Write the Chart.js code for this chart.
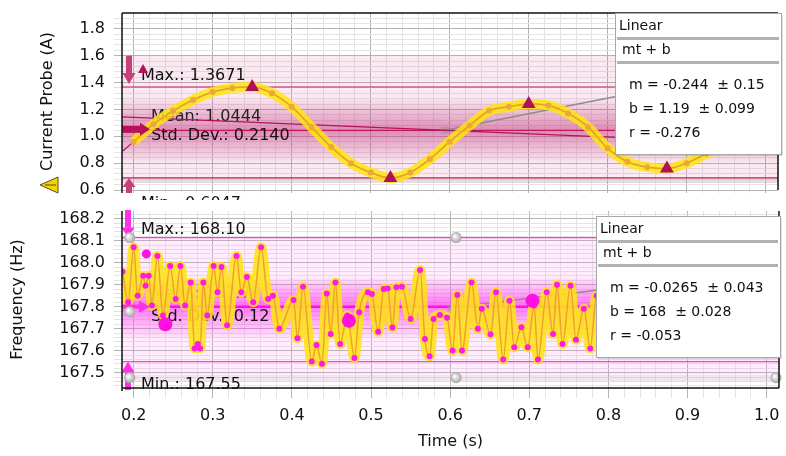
<!DOCTYPE html>
<html>
<head>
<meta charset="utf-8">
<script src="https://cdn.jsdelivr.net/npm/chart.js@4.4.1/dist/chart.umd.min.js"></script>
<style>
  body { margin: 0; background: #fff; }
  canvas { display: block; }
</style>
</head>
<body>
<canvas id="current" width="786" height="200"></canvas>
<canvas id="frequency" width="786" height="256"></canvas>
<script>
// shared time axis (s)
const timeMin = 0.1852;
const timeMax = 1.0156;

// Current Probe (A)
const currentTime = [0.186, 0.2, 0.225, 0.25, 0.275, 0.3, 0.325, 0.35, 0.375, 0.4, 0.425, 0.45, 0.475, 0.5,
  0.525, 0.55, 0.575, 0.6, 0.625, 0.65, 0.675, 0.7, 0.725, 0.75, 0.775, 0.8, 0.825, 0.85, 0.875, 0.9,
  0.925, 0.95, 0.975, 1.0, 1.0156];
const currentValue = [0.89, 0.96, 1.09, 1.19, 1.27, 1.33, 1.36, 1.367, 1.32, 1.22, 1.07, 0.92, 0.80, 0.73,
  0.69, 0.73, 0.83, 0.96, 1.08, 1.19, 1.22, 1.24, 1.23, 1.17, 1.07, 0.91, 0.81, 0.77, 0.76, 0.80,
  0.87, 0.93, 0.95, 0.95, 0.95];
const currentPeakTime = [0.35, 0.525, 0.70, 0.875];
const currentPeakValue = [1.367, 0.69, 1.24, 0.76];
const currentMaxLine = 1.367;
const currentMeanLine = 1.0444;
const currentMinLine = 0.69;
const currentFitM = -0.244;
const currentFitB = 1.19;
const currentTangentTime = [0.594, 1.0156];
const currentTangentValue = [1.045, 1.534];
const currentTicksMin = 0.6;
const currentTicksMax = 1.918;

// Frequency (Hz)
const freqTime = [0.186, 0.193, 0.2, 0.205, 0.212, 0.215, 0.219, 0.223, 0.230, 0.237, 0.246, 0.253, 0.259,
  0.265, 0.272, 0.277, 0.281, 0.284, 0.288, 0.293, 0.301, 0.306, 0.311, 0.318, 0.330, 0.336, 0.343,
  0.351, 0.361, 0.370, 0.376, 0.384, 0.402, 0.407, 0.414, 0.425, 0.431, 0.438, 0.444, 0.449, 0.455,
  0.461, 0.470, 0.479, 0.485, 0.496, 0.501, 0.509, 0.516, 0.521, 0.527, 0.532, 0.539, 0.550, 0.562,
  0.568, 0.574, 0.579, 0.587, 0.596, 0.603, 0.609, 0.615, 0.627, 0.635, 0.640, 0.651, 0.658, 0.667,
  0.675, 0.681, 0.690, 0.698, 0.706, 0.711, 0.722, 0.730, 0.735, 0.742, 0.752, 0.759, 0.769, 0.777,
  0.785, 0.792, 0.800, 0.808, 0.815, 0.823, 0.830, 0.838, 0.845, 0.853, 0.860, 0.868, 0.875, 0.883,
  0.890, 0.898, 0.905, 0.913, 0.920, 0.928, 0.935, 0.943, 0.950, 0.958, 0.965, 0.973, 0.980, 0.988,
  0.995, 1.003, 1.0156];
const freqValue = [167.96, 167.82, 168.07, 167.85, 167.94, 167.895, 167.94, 167.805, 168.03, 167.76, 167.985,
  167.835, 167.985, 167.805, 167.91, 167.61, 167.63, 167.61, 167.91, 167.76, 167.985, 167.865, 167.98,
  167.715, 168.03, 167.865, 167.935, 167.82, 168.07, 167.835, 167.85, 167.70, 167.83, 167.656, 167.89,
  167.55, 167.626, 167.54, 167.86, 167.676, 167.91, 167.63, 167.76, 167.567, 167.774, 167.865, 167.857,
  167.686, 167.88, 167.883, 167.705, 167.888, 167.89, 167.744, 167.967, 167.653, 167.574, 167.744,
  167.762, 167.75, 167.60, 167.853, 167.60, 167.91, 167.70, 167.79, 167.674, 167.865, 167.56, 167.827,
  167.615, 167.706, 167.615, 167.805, 167.56, 167.865, 167.676, 167.90, 167.63, 167.895, 167.65, 167.79,
  167.61, 167.85, 167.66, 167.93, 167.70, 167.98, 167.64, 167.88, 167.72, 167.95, 167.62, 167.90, 167.68,
  168.02, 167.70, 167.86, 167.63, 167.92, 167.72, 167.97, 167.66, 167.89, 167.74, 167.99, 167.65, 167.87,
  167.70, 167.94, 167.75, 167.98, 167.79, 167.99];
const freqDotTime = [0.216, 0.240, 0.472, 0.704];
const freqDotValue = [168.04, 167.72, 167.736, 167.827];
const freqDotSize = [4.5, 7, 7, 7];
const freqMaxLine = 168.114;
const freqMeanLine = 167.8;
const freqMinLine = 167.55;
const freqTangentTime = [0.6, 1.0156];
const freqTangentValue = [167.795, 167.974];
const freqTicksMin = 167.43;
const freqTicksMax = 168.235;

const pts = (xs, ys) => xs.map((x, i) => ({ x, y: ys[i] }));
const isMult = (v, m) => Math.abs(v / m - Math.round(v / m)) < 1e-6;
const FONT = 'DejaVu Sans';
const MAJOR = '#b4b4b4';
const MINOR = '#e4e4e4';

function vArrow(ctx, x, yTail, yTip, shaftW, headW, headL, color) {
  const dir = yTip > yTail ? 1 : -1;
  ctx.fillStyle = color;
  ctx.fillRect(x - shaftW / 2, Math.min(yTail, yTip - dir * headL), shaftW, Math.abs(yTip - dir * headL - yTail));
  ctx.beginPath();
  ctx.moveTo(x - headW / 2, yTip - dir * headL);
  ctx.lineTo(x + headW / 2, yTip - dir * headL);
  ctx.lineTo(x, yTip);
  ctx.closePath();
  ctx.fill();
}
function hArrow(ctx, x0, xTip, y, shaftH, headH, headL, color) {
  ctx.fillStyle = color;
  ctx.fillRect(x0, y - shaftH / 2, xTip - headL - x0, shaftH);
  ctx.beginPath();
  ctx.moveTo(xTip - headL, y - headH / 2);
  ctx.lineTo(xTip - headL, y + headH / 2);
  ctx.lineTo(xTip, y);
  ctx.closePath();
  ctx.fill();
}
function sphere(ctx, x, y, r) {
  const g = ctx.createRadialGradient(x - r * 0.3, y - r * 0.3, 0.5, x, y, r);
  g.addColorStop(0, '#ffffff');
  g.addColorStop(1, '#a4a4a4');
  ctx.fillStyle = g;
  ctx.beginPath();
  ctx.arc(x, y, r, 0, Math.PI * 2);
  ctx.fill();
}
function hLine(ctx, a, y, color, w) {
  ctx.strokeStyle = color;
  ctx.lineWidth = w;
  ctx.beginPath();
  ctx.moveTo(a.left, y);
  ctx.lineTo(a.right, y);
  ctx.stroke();
}
function text(ctx, s, x, y, color, size) {
  ctx.fillStyle = color;
  ctx.font = (size || 16) + 'px "' + FONT + '"';
  ctx.textBaseline = 'middle';
  ctx.textAlign = 'left';
  ctx.fillText(s, x, y);
}
function fitBox(ctx, x, y, w, h, lines) {
  ctx.fillStyle = 'rgba(0,0,0,0.12)';
  ctx.fillRect(x + 2, y + 2, w, h);
  ctx.fillStyle = '#fff';
  ctx.fillRect(x, y, w, h);
  ctx.strokeStyle = '#a8a8a8';
  ctx.lineWidth = 1;
  ctx.strokeRect(x + 0.5, y + 0.5, w, h);
  ctx.fillStyle = '#b2b2b2';
  ctx.fillRect(x + 2, y + 24, w - 4, 3);
  ctx.fillRect(x + 2, y + 48, w - 4, 3);
  text(ctx, 'Linear', x + 4, y + 13, '#111', 14);
  text(ctx, 'mt + b', x + 7, y + 37, '#111', 14);
  lines.forEach((s, i) => text(ctx, s, x + 14, y + 72 + i * 24, '#111', 14));
}
function frame(ctx, a, sides) {
  ctx.strokeStyle = '#111';
  ctx.lineWidth = 1.5;
  ctx.beginPath();
  if (sides.includes('t')) { ctx.moveTo(a.left, a.top); ctx.lineTo(a.right, a.top); }
  if (sides.includes('b')) { ctx.moveTo(a.left, a.bottom); ctx.lineTo(a.right, a.bottom); }
  if (sides.includes('l')) { ctx.moveTo(a.left, a.top); ctx.lineTo(a.left, a.bottom + 3); }
  if (sides.includes('r')) { ctx.moveTo(a.right, a.top); ctx.lineTo(a.right, a.bottom); }
  ctx.stroke();
}

function xAxis(showLabels, height) {
  return {
    type: 'linear', min: timeMin, max: timeMax,
    ticks: {
      display: showLabels, stepSize: 0.02, includeBounds: false, autoSkip: false, maxRotation: 0,
      padding: 8, color: '#111', font: { family: FONT, size: 16 },
      callback: v => isMult(v, 0.1) ? v.toFixed(1) : ''
    },
    grid: { color: c => c.tick && isMult(c.tick.value, 0.1) ? MAJOR : MINOR, tickLength: showLabels ? 10 : 3 },
    border: { display: false },
    title: { display: showLabels, text: 'Time (s)', color: '#111', font: { family: FONT, size: 16 }, padding: { top: 0, bottom: 5 } },
    afterFit: s => { s.height = height; s.paddingLeft = 0; s.paddingRight = 0; }
  };
}
function yAxis(min, max, step, major, title, titlePad) {
  return {
    min, max,
    ticks: {
      stepSize: step, includeBounds: false, autoSkip: false, padding: 9, color: '#111',
      font: { family: FONT, size: 16 },
      callback: v => isMult(v, major) ? v.toFixed(1) : ''
    },
    grid: { color: c => c.tick && isMult(c.tick.value, major) ? MAJOR : MINOR, tickLength: 8 },
    border: { display: false },
    title: { display: true, text: title, color: '#111', font: { family: FONT, size: 16 }, padding: { top: titlePad, bottom: 0 } },
    afterFit: s => { s.width = 122; s.paddingTop = 0; s.paddingBottom = 0; }
  };
}

const currentDecor = {
  id: 'currentDecor',
  beforeDatasetsDraw(chart) {
    const { ctx, chartArea: a, scales: { y } } = chart;
    const w = a.right - a.left;
    ctx.save();
    ctx.fillStyle = 'rgba(225,110,165,0.15)';
    ctx.fillRect(a.left, y.getPixelForValue(1.6), w, y.getPixelForValue(0.652) - y.getPixelForValue(1.6));
    ctx.fillStyle = 'rgba(190,190,190,0.3)';
    ctx.fillRect(a.left, y.getPixelForValue(currentMinLine), w, y.getPixelForValue(0.652) - y.getPixelForValue(currentMinLine));
    const t = y.getPixelForValue(1.28), b = y.getPixelForValue(0.81);
    const g = ctx.createLinearGradient(0, t, 0, b);
    g.addColorStop(0, 'rgba(190,50,120,0.03)');
    g.addColorStop(0.5, 'rgba(190,50,120,0.5)');
    g.addColorStop(1, 'rgba(190,50,120,0.03)');
    ctx.fillStyle = g;
    ctx.fillRect(a.left, t, w, b - t);
    hLine(ctx, a, y.getPixelForValue(currentMaxLine), '#c2185b', 1.2);
    hLine(ctx, a, y.getPixelForValue(currentMeanLine), '#c2185b', 1.2);
    hLine(ctx, a, y.getPixelForValue(currentMinLine), '#c2185b', 1.2);
    text(ctx, 'Max.: 1.3671', a.left + 19, y.getPixelForValue(currentMaxLine) - 11, '#111');
    text(ctx, 'Mean: 1.0444', a.left + 29, y.getPixelForValue(currentMeanLine) - 13, '#222');
    text(ctx, 'Std. Dev.: 0.2140', a.left + 29, y.getPixelForValue(currentMeanLine) + 6, '#111');
    text(ctx, 'Min.: 0.6047', a.left + 19, y.getPixelForValue(currentMinLine) + 26, '#111');
    ctx.restore();
  },
  afterDatasetsDraw(chart) {
    const { ctx, chartArea: a, scales: { y } } = chart;
    ctx.save();
    const c = '#c8407a';
    vArrow(ctx, a.left + 7, y.getPixelForValue(1.6), y.getPixelForValue(currentMaxLine) - 3, 6, 13, 11, c);
    vArrow(ctx, a.left + 7, a.bottom + 3, y.getPixelForValue(currentMinLine), 6, 13, 9, c);
    hArrow(ctx, a.left, a.left + 28, y.getPixelForValue(currentMeanLine) - 1, 7, 13, 10, '#b8105a');
    ctx.fillStyle = '#b8105a';
    ctx.beginPath();
    const ty = y.getPixelForValue(currentMaxLine) - 18;
    ctx.moveTo(a.left + 21, ty - 5); ctx.lineTo(a.left + 26, ty + 4); ctx.lineTo(a.left + 16, ty + 4);
    ctx.closePath(); ctx.fill();
    frame(ctx, a, 'tlr');
    // yellow marker left of the axis
    ctx.fillStyle = '#f2d400';
    ctx.strokeStyle = '#5a5020';
    ctx.lineWidth = 1;
    ctx.beginPath();
    ctx.moveTo(40, 185); ctx.lineTo(58, 177); ctx.lineTo(58, 193); ctx.closePath();
    ctx.fill(); ctx.stroke();
    ctx.beginPath(); ctx.moveTo(45, 185); ctx.lineTo(56, 185); ctx.stroke();
    fitBox(ctx, 615, a.top, 166, 141, ['m = -0.244  \u00b1 0.15', 'b = 1.19  \u00b1 0.099', 'r = -0.276']);
    ctx.restore();
  }
};

const freqDecor = {
  id: 'freqDecor',
  beforeDatasetsDraw(chart) {
    const { ctx, chartArea: a, scales: { x, y } } = chart;
    const w = a.right - a.left;
    ctx.save();
    text(ctx, 'Mean: 167.79', a.left + 29, y.getPixelForValue(freqMeanLine) - 13, '#7a6878');
    ctx.fillStyle = 'rgba(255,140,240,0.17)';
    ctx.fillRect(a.left, y.getPixelForValue(freqMaxLine), w, y.getPixelForValue(167.46) - y.getPixelForValue(freqMaxLine));
    ctx.fillStyle = 'rgba(200,200,200,0.22)';
    ctx.fillRect(a.left, y.getPixelForValue(167.49), w, y.getPixelForValue(167.46) - y.getPixelForValue(167.49));
    const t = y.getPixelForValue(167.93), b = y.getPixelForValue(167.66);
    const g = ctx.createLinearGradient(0, t, 0, b);
    g.addColorStop(0, 'rgba(255,40,240,0.05)');
    g.addColorStop(0.45, 'rgba(255,40,240,0.6)');
    g.addColorStop(1, 'rgba(255,40,240,0.05)');
    ctx.fillStyle = g;
    ctx.fillRect(a.left, t, w, b - t);
    hLine(ctx, a, y.getPixelForValue(freqMaxLine), '#ff38e6', 1.2);
    hLine(ctx, a, y.getPixelForValue(freqMinLine), '#ff38e6', 1.2);
    hLine(ctx, a, y.getPixelForValue(freqMeanLine), '#ff10e0', 2.5);
    text(ctx, 'Max.: 168.10', a.left + 19, y.getPixelForValue(freqMaxLine) - 8, '#111');
    text(ctx, 'Std. Dev.: 0.12', a.left + 29, y.getPixelForValue(freqMeanLine) + 10, '#111');
    text(ctx, 'Min.: 167.55', a.left + 19, y.getPixelForValue(freqMinLine) + 23, '#111');
    ctx.restore();
  },
  afterDatasetsDraw(chart) {
    const { ctx, chartArea: a, scales: { x, y } } = chart;
    ctx.save();
    const c = '#ff30e8';
    vArrow(ctx, a.left + 6, a.top - 1, y.getPixelForValue(freqMaxLine), 6, 13, 10, c);
    vArrow(ctx, a.left + 6, a.bottom + 2, y.getPixelForValue(freqMinLine), 6, 13, 11, c);
    hArrow(ctx, a.left, a.left + 28, y.getPixelForValue(freqMeanLine), 4, 12, 11, c);
    [[0.195, freqMaxLine], [0.195, 167.777], [0.195, 167.477], [0.6075, freqMaxLine], [0.6075, 167.477], [1.0118, 167.477]]
      .forEach(([tx, ty]) => sphere(ctx, x.getPixelForValue(tx), y.getPixelForValue(ty), 5.5));
    frame(ctx, a, 'blr');
    fitBox(ctx, 596, 16, 184, 141, ['m = -0.0265  \u00b1 0.043', 'b = 168  \u00b1 0.028', 'r = -0.053']);
    ctx.restore();
  }
};

const common = {
  responsive: false,
  animation: false,
  events: [],
  plugins: { legend: { display: false }, tooltip: { enabled: false } }
};

const currentAll = pts(currentTime, currentValue);
const currentBand = currentAll.filter(p => p.x >= 0.2);

new Chart(document.getElementById('current'), {
  type: 'line',
  data: {
    datasets: [
      { data: pts(currentPeakTime, currentPeakValue), showLine: false, pointStyle: 'triangle', pointRadius: 8,
        pointBackgroundColor: '#b0105a', pointBorderWidth: 0, order: 0 },
      { data: currentBand, borderColor: '#e6a21c', borderWidth: 1.5, cubicInterpolationMode: 'monotone',
        pointRadius: 3, pointBackgroundColor: '#eaa83a', pointBorderWidth: 0, order: 1 },
      { data: currentBand, borderColor: 'rgba(255,228,20,0.85)', borderWidth: 10, cubicInterpolationMode: 'monotone',
        pointRadius: 0, order: 2 },
      { data: currentAll, borderColor: '#b3125a', borderWidth: 1.2, cubicInterpolationMode: 'monotone',
        pointRadius: 0, order: 3 },
      { data: [{ x: timeMin, y: currentFitM * timeMin + currentFitB }, { x: timeMax, y: currentFitM * timeMax + currentFitB }],
        borderColor: '#b3125a', borderWidth: 1.2, pointRadius: 0, order: 4 },
      { data: pts(currentTangentTime, currentTangentValue), borderColor: '#8c8c8c', borderWidth: 1.5,
        pointStyle: 'rect', pointRadius: [5, 0], pointBackgroundColor: 'rgba(150,150,150,0.6)', pointBorderWidth: 0, order: 5 }
    ]
  },
  options: Object.assign({}, common, {
    layout: { padding: { left: 0, right: 3, top: 13, bottom: 0 } },
    scales: {
      x: xAxis(false, 10),
      y: yAxis(currentTicksMin, currentTicksMax, 0.04, 0.2, 'Current Probe (A)', 38)
    }
  }),
  plugins: [currentDecor]
});

const freqAll = pts(freqTime, freqValue);

new Chart(document.getElementById('frequency'), {
  type: 'line',
  data: {
    datasets: [
      { data: pts(freqDotTime, freqDotValue), showLine: false, pointRadius: freqDotSize,
        pointBackgroundColor: '#ff10e0', pointBorderWidth: 0, order: 0 },
      { data: freqAll, showLine: false, pointRadius: 3, pointBackgroundColor: '#ff1ae6', pointBorderWidth: 0, order: 1 },
      { data: freqAll, borderColor: '#f0a030', borderWidth: 1.5, cubicInterpolationMode: 'monotone', pointRadius: 0, order: 2 },
      { data: freqAll, borderColor: 'rgba(255,228,20,0.88)', borderWidth: 10, cubicInterpolationMode: 'monotone', pointRadius: 0, order: 3 },
      { data: pts(freqTangentTime, freqTangentValue), borderColor: '#8c8c8c', borderWidth: 1.5,
        pointStyle: 'rect', pointRadius: [4, 0], pointBackgroundColor: 'rgba(150,150,150,0.6)', pointBorderWidth: 0, order: 4 }
    ]
  },
  options: Object.assign({}, common, {
    layout: { padding: { left: 0, right: 3, top: 11, bottom: 0 } },
    scales: {
      x: xAxis(true, 68),
      y: yAxis(freqTicksMin, freqTicksMax, 0.02, 0.1, 'Frequency (Hz)', 8)
    }
  }),
  plugins: [freqDecor]
});
</script>
</body>
</html>
